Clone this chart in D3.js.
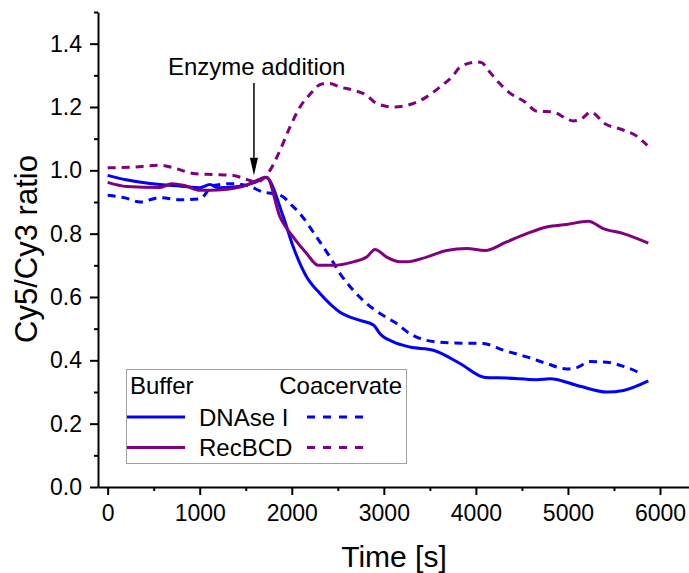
<!DOCTYPE html>
<html>
<head>
<meta charset="utf-8">
<script src="https://cdn.jsdelivr.net/npm/d3@7"></script>
<style>
  body { margin: 0; background: #fff; }
  text { font-family: "Liberation Sans", Arial, sans-serif; fill: #000; }
</style>
</head>
<body>
<div id="chart"></div>
<script>
// DNAse I, buffer (solid blue)
const dnaseBufT = [0, 200, 568, 800, 1003, 1110, 1200, 1400, 1600, 1720, 1908, 2016, 2162, 2306, 2524, 2741, 2890, 2958, 3103, 3284, 3537, 3827, 4099, 4334, 4660, 4805, 5131, 5421, 5602, 5873];
const dnaseBufV = [0.984, 0.970, 0.955, 0.950, 0.945, 0.955, 0.945, 0.948, 0.962, 0.977, 0.853, 0.758, 0.663, 0.611, 0.552, 0.526, 0.511, 0.484, 0.458, 0.442, 0.432, 0.390, 0.346, 0.344, 0.339, 0.342, 0.318, 0.300, 0.305, 0.335];

// DNAse I, coacervate (dashed blue)
const dnaseCoaT = [0, 188, 351, 568, 785, 1003, 1147, 1364, 1546, 1690, 1800, 1908, 1981, 2089, 2270, 2415, 2524, 2668, 2813, 2958, 3140, 3284, 3465, 3719, 4080, 4298, 4552, 4769, 4986, 5095, 5240, 5421, 5602, 5801];
const dnaseCoaV = [0.921, 0.913, 0.900, 0.914, 0.907, 0.910, 0.952, 0.958, 0.949, 0.931, 0.926, 0.916, 0.895, 0.863, 0.789, 0.726, 0.674, 0.621, 0.579, 0.548, 0.516, 0.484, 0.463, 0.455, 0.453, 0.432, 0.411, 0.390, 0.373, 0.377, 0.396, 0.394, 0.381, 0.358];

// RecBCD, buffer (solid purple)
const recBufT = [0, 206, 568, 695, 821, 1003, 1111, 1293, 1510, 1582, 1727, 1872, 2016, 2162, 2288, 2451, 2668, 2813, 2904, 3031, 3175, 3248, 3465, 3683, 3900, 4099, 4334, 4552, 4769, 4986, 5221, 5384, 5602, 5873];
const recBufV = [0.962, 0.949, 0.946, 0.958, 0.953, 0.937, 0.937, 0.940, 0.953, 0.963, 0.978, 0.853, 0.789, 0.737, 0.700, 0.700, 0.711, 0.726, 0.750, 0.726, 0.711, 0.711, 0.726, 0.747, 0.753, 0.747, 0.774, 0.800, 0.821, 0.829, 0.839, 0.816, 0.800, 0.770];

// RecBCD, coacervate (dashed purple)
const recCoaT = [0, 278, 568, 750, 930, 1147, 1364, 1510, 1619, 1763, 1872, 1981, 2089, 2198, 2325, 2415, 2524, 2668, 2813, 2922, 3103, 3320, 3465, 3610, 3755, 3827, 4009, 4063, 4135, 4243, 4370, 4533, 4660, 4841, 4986, 5058, 5149, 5247, 5402, 5584, 5747, 5862];
const recCoaV = [1.008, 1.010, 1.016, 1.005, 0.990, 0.987, 0.984, 0.971, 0.963, 1.000, 1.063, 1.137, 1.200, 1.240, 1.273, 1.274, 1.263, 1.253, 1.237, 1.211, 1.200, 1.211, 1.232, 1.263, 1.300, 1.326, 1.342, 1.340, 1.316, 1.279, 1.244, 1.216, 1.187, 1.184, 1.163, 1.156, 1.163, 1.184, 1.147, 1.129, 1.108, 1.079];

const xTicks = [0, 1000, 2000, 3000, 4000, 5000, 6000];
const xMinor = [500, 1500, 2500, 3500, 4500, 5500];
const yTicks = [0, 0.2, 0.4, 0.6, 0.8, 1.0, 1.2, 1.4];
const yMinor = [0.1, 0.3, 0.5, 0.7, 0.9, 1.1, 1.3, 1.5];

const enzymeTime = 1589;

const series = [
  {name: "DNAse I", t: dnaseBufT, v: dnaseBufV, color: "#0000ff", dash: null},
  {name: "DNAse I", t: dnaseCoaT, v: dnaseCoaV, color: "#0000ff", dash: "8,6"},
  {name: "RecBCD", t: recBufT, v: recBufV, color: "#800080", dash: null},
  {name: "RecBCD", t: recCoaT, v: recCoaV, color: "#800080", dash: "8,6"}
];

const W = 689, H = 573;
const margin = {top: 12, right: 0, bottom: 86, left: 98};

const svg = d3.select("#chart").append("svg")
  .attr("width", W)
  .attr("height", H);

const x = d3.scaleLinear().domain([-105, 6315]).range([margin.left, W - margin.right]);
const y = d3.scaleLinear().domain([0, 1.5]).range([H - margin.bottom, margin.top]);

// minor ticks
svg.append("g")
  .attr("transform", `translate(0,${H - margin.bottom})`)
  .call(d3.axisBottom(x).tickValues(xMinor).tickSize(4).tickFormat(""))
  .call(g => g.select(".domain").remove())
  .call(g => g.selectAll("line").attr("stroke-width", 2));

svg.append("g")
  .attr("transform", `translate(${margin.left},0)`)
  .call(d3.axisLeft(y).tickValues(yMinor).tickSize(4).tickFormat(""))
  .call(g => g.select(".domain").remove())
  .call(g => g.selectAll("line").attr("stroke-width", 2));

// major axes
let xAxisG = svg.append("g")
  .attr("transform", `translate(0,${H - margin.bottom})`)
  .call(d3.axisBottom(x).tickValues(xTicks).tickSize(8).tickSizeOuter(0).tickPadding(10).tickFormat(d3.format("d")));

let yAxisG = svg.append("g")
  .attr("transform", `translate(${margin.left},0)`)
  .call(d3.axisLeft(y).tickValues(yTicks).tickSize(8).tickSizeOuter(0).tickPadding(8).tickFormat(d3.format(".1f")));

[xAxisG, yAxisG].forEach(g => {
  g.select(".domain").attr("stroke-width", 2);
  g.selectAll(".tick line").attr("stroke-width", 2);
  g.selectAll(".tick text").style("font-size", "23px").style("font-family", "'Liberation Sans', Arial, sans-serif");
});

// lines
const line = d3.line()
  .x(d => x(d[0]))
  .y(d => y(d[1]))
  .curve(d3.curveMonotoneX);

series.forEach(s => {
  svg.append("path")
    .datum(s.t.map((t, i) => [t, s.v[i]]))
    .attr("fill", "none")
    .attr("stroke", s.color)
    .attr("stroke-width", 3)
    .attr("stroke-dasharray", s.dash)
    .attr("d", line);
});

// enzyme addition arrow
const ax = x(enzymeTime);
svg.append("line")
  .attr("x1", ax).attr("x2", ax)
  .attr("y1", y(1.276)).attr("y2", y(1.04))
  .attr("stroke", "#000").attr("stroke-width", 1.5);
svg.append("path")
  .attr("d", `M${ax - 4},${y(1.04)} L${ax + 4},${y(1.04)} L${ax},${y(0.984)} Z`)
  .attr("fill", "#000");
svg.append("text")
  .attr("x", 168).attr("y", 75)
  .style("font-size", "24px")
  .text("Enzyme addition");

// axis titles
svg.append("text")
  .attr("x", 394).attr("y", 567)
  .attr("text-anchor", "middle")
  .style("font-size", "30px")
  .text("Time [s]");

svg.append("text")
  .attr("transform", "translate(37,249) rotate(-90)")
  .attr("text-anchor", "middle")
  .style("font-size", "31px")
  .text("Cy5/Cy3 ratio");

// legend
const leg = svg.append("g");
leg.append("rect")
  .attr("x", 126.5).attr("y", 369.5)
  .attr("width", 280).attr("height", 94)
  .attr("fill", "#fff")
  .attr("stroke", "#a0a0a0").attr("stroke-width", 1);
leg.append("text").attr("x", 130).attr("y", 394).style("font-size", "24px").text("Buffer");
leg.append("text").attr("x", 402).attr("y", 394).attr("text-anchor", "end").style("font-size", "24px").text("Coacervate");

const rows = [series[0], series[2]];
rows.forEach((s, i) => {
  const ly = 417 + i * 30.5;
  leg.append("line")
    .attr("x1", 127).attr("x2", 185).attr("y1", ly).attr("y2", ly)
    .attr("stroke", s.color).attr("stroke-width", 3);
  leg.append("text")
    .attr("x", 199).attr("y", ly + 8.5)
    .style("font-size", "24px")
    .text(s.name);
  leg.append("line")
    .attr("x1", 307).attr("x2", 364).attr("y1", ly).attr("y2", ly)
    .attr("stroke", s.color).attr("stroke-width", 3)
    .attr("stroke-dasharray", "8,8");
});
</script>
</body>
</html>
